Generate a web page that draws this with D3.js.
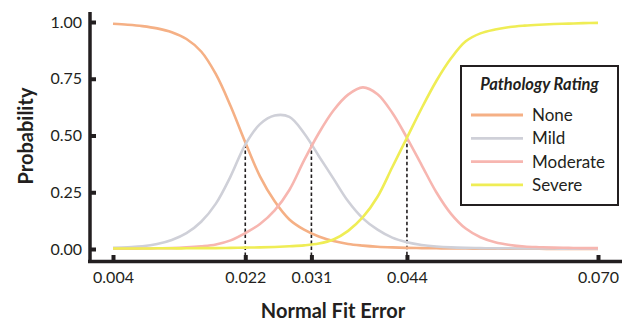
<!DOCTYPE html>
<html>
<head>
<meta charset="utf-8">
<script src="https://cdn.jsdelivr.net/npm/d3@7"></script>
<style>
  body { margin: 0; background: #fff; }
  text { font-family: Lato, "Open Sans", sans-serif; fill: #231f20; }
</style>
</head>
<body>
<div id="chart"></div>
<script>
// normal fit error, sampled every 0.002
var fitError = [0.004, 0.006, 0.008, 0.010, 0.012, 0.014, 0.016, 0.018, 0.020, 0.022,
                0.024, 0.026, 0.028, 0.030, 0.032, 0.034, 0.036, 0.038, 0.040, 0.042,
                0.044, 0.046, 0.048, 0.050, 0.052, 0.054, 0.056, 0.058, 0.060, 0.062,
                0.064, 0.066, 0.068, 0.070];

var probNone = [0.992, 0.988, 0.982, 0.972, 0.955, 0.925, 0.870, 0.770, 0.630, 0.470,
                0.320, 0.210, 0.130, 0.085, 0.055, 0.035, 0.022, 0.015, 0.010, 0.007,
                0.005, 0.004, 0.003, 0.002, 0.002, 0.001, 0.001, 0.001, 0.001, 0.001,
                0.000, 0.000, 0.000, 0.000];

var probMild = [0.005, 0.008, 0.012, 0.022, 0.040, 0.070, 0.120, 0.200, 0.320, 0.460,
                0.550, 0.588, 0.582, 0.510, 0.410, 0.310, 0.210, 0.135, 0.085, 0.050,
                0.030, 0.018, 0.011, 0.007, 0.005, 0.004, 0.003, 0.003, 0.002, 0.002,
                0.002, 0.001, 0.001, 0.001];

var probModerate = [0.001, 0.001, 0.002, 0.003, 0.004, 0.007, 0.012, 0.020, 0.038, 0.070,
                    0.110, 0.170, 0.260, 0.390, 0.510, 0.610, 0.680, 0.712, 0.682, 0.600,
                    0.490, 0.370, 0.250, 0.155, 0.090, 0.052, 0.030, 0.018, 0.011, 0.008,
                    0.006, 0.005, 0.004, 0.004];

var probSevere = [0.002, 0.002, 0.002, 0.003, 0.003, 0.003, 0.004, 0.004, 0.005, 0.006,
                  0.007, 0.009, 0.012, 0.016, 0.024, 0.042, 0.080, 0.140, 0.230, 0.360,
                  0.490, 0.620, 0.740, 0.840, 0.915, 0.950, 0.967, 0.978, 0.984, 0.988,
                  0.991, 0.993, 0.995, 0.996];

var ratings = ["None", "Mild", "Moderate", "Severe"];
var colors = ["#f5b085", "#cfd0d8", "#f7b6b0", "#efed55"];

// cut points where neighbouring curves cross
var cutX = [0.022, 0.031, 0.044];
var cutY = [0.46, 0.46, 0.49];

var xTicks = [0.004, 0.022, 0.031, 0.044, 0.070];
var yTicks = [0, 0.25, 0.5, 0.75, 1];

var width = 624, height = 322;

var svg = d3.select("#chart").append("svg")
    .attr("width", width)
    .attr("height", height);

var x = d3.scaleLinear().domain([0.004, 0.070]).range([113, 598]);
var y = d3.scaleLinear().domain([0, 1]).range([249, 22]);

var series = [probNone, probMild, probModerate, probSevere];

var line = d3.line()
    .x(function(d, i) { return x(fitError[i]); })
    .y(function(d) { return y(d); })
    .curve(d3.curveCatmullRom);

// dashed drop lines
svg.selectAll(".cut")
    .data(cutX)
    .enter().append("line")
      .attr("class", "cut")
      .attr("x1", function(d) { return x(d); })
      .attr("x2", function(d) { return x(d); })
      .attr("y1", function(d, i) { return y(cutY[i]); })
      .attr("y2", 259)
      .attr("stroke", "#231f20")
      .attr("stroke-width", 1.6)
      .attr("stroke-dasharray", "3.5,2.5");

svg.selectAll(".curve")
    .data(series)
    .enter().append("path")
      .attr("class", "curve")
      .attr("d", line)
      .attr("fill", "none")
      .attr("stroke", function(d, i) { return colors[i]; })
      .attr("stroke-width", 2.6);

// axes
var yAxis = svg.append("g")
    .attr("transform", "translate(90,0)")
    .call(d3.axisLeft(y).tickValues(yTicks).tickFormat(d3.format(".2f"))
      .tickSizeInner(-6).tickSizeOuter(0).tickPadding(8));

var xAxis = svg.append("g")
    .attr("transform", "translate(0,261)")
    .call(d3.axisBottom(x).tickValues(xTicks).tickFormat(d3.format(".3f"))
      .tickSizeInner(-6).tickSizeOuter(0).tickPadding(11));

[yAxis, xAxis].forEach(function(a) {
  a.select(".domain").remove();
  a.selectAll(".tick line").attr("stroke", "#231f20").attr("stroke-width", 4);
  a.selectAll(".tick text").style("font-size", "16px").attr("fill", "#231f20");
});

svg.append("line")
    .attr("x1", 90).attr("x2", 90)
    .attr("y1", 12).attr("y2", 263)
    .attr("stroke", "#231f20").attr("stroke-width", 3.5);

svg.append("line")
    .attr("x1", 88).attr("x2", 622)
    .attr("y1", 261.5).attr("y2", 261.5)
    .attr("stroke", "#231f20").attr("stroke-width", 3.5);

// axis titles
svg.append("text")
    .attr("x", 333).attr("y", 318)
    .attr("text-anchor", "middle")
    .style("font-size", "20px").style("font-weight", "bold")
    .text("Normal Fit Error");

svg.append("text")
    .attr("transform", "translate(33,136) rotate(-90)")
    .attr("text-anchor", "middle")
    .style("font-size", "20px").style("font-weight", "bold")
    .text("Probability");

// legend
var legend = svg.append("g");

legend.append("rect")
    .attr("x", 461).attr("y", 66)
    .attr("width", 157).attr("height", 139)
    .attr("fill", "#fff")
    .attr("stroke", "#231f20").attr("stroke-width", 2);

legend.append("text")
    .attr("x", 539.5).attr("y", 90)
    .attr("text-anchor", "middle")
    .style("font-size", "16.5px").style("font-weight", "bold").style("font-style", "italic")
    .text("Pathology Rating");

var item = legend.selectAll(".item")
    .data(ratings)
    .enter().append("g")
      .attr("class", "item")
      .attr("transform", function(d, i) { return "translate(0," + (115 + i * 23.3) + ")"; });

item.append("line")
    .attr("x1", 471).attr("x2", 523)
    .attr("stroke", function(d, i) { return colors[i]; })
    .attr("stroke-width", 2.8);

item.append("text")
    .attr("x", 532).attr("y", 6)
    .style("font-size", "17px")
    .text(function(d) { return d; });
</script>
</body>
</html>
